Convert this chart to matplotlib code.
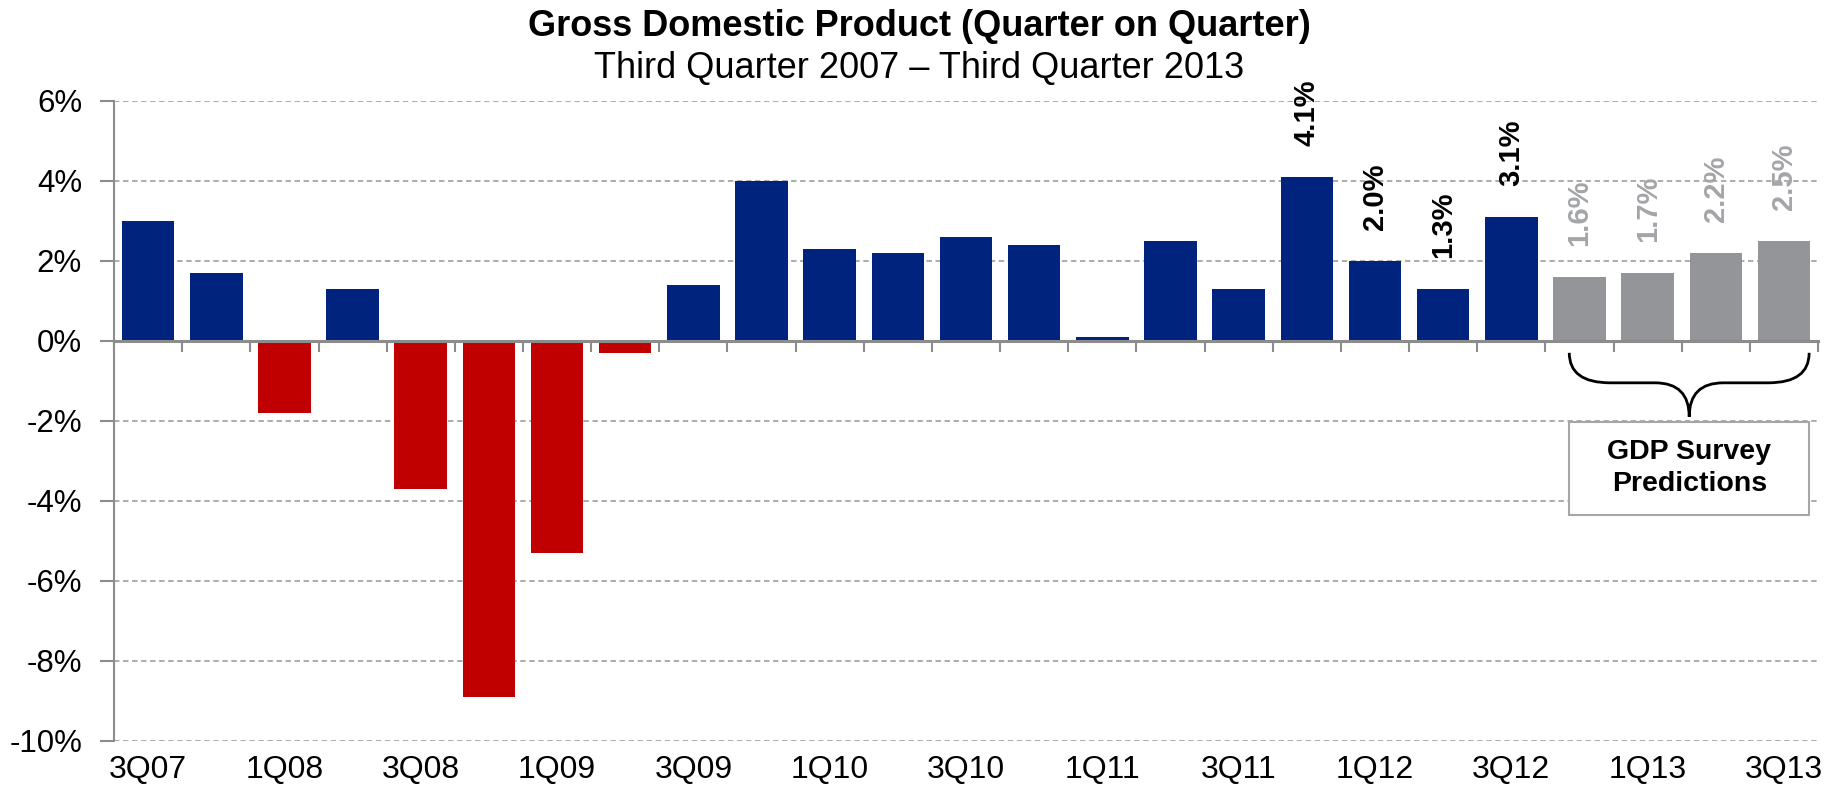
import matplotlib
matplotlib.use("Agg")
import matplotlib.pyplot as plt
import numpy as np
from matplotlib.path import Path
from matplotlib.patches import PathPatch, Rectangle
from matplotlib.transforms import blended_transform_factory

plt.rcParams['font.family'] = ['Liberation Sans', 'DejaVu Sans']

quarters = ['3Q07', '4Q07', '1Q08', '2Q08', '3Q08', '4Q08', '1Q09', '2Q09',
            '3Q09', '4Q09', '1Q10', '2Q10', '3Q10', '4Q10', '1Q11', '2Q11',
            '3Q11', '4Q11', '1Q12', '2Q12', '3Q12', '4Q12', '1Q13', '2Q13',
            '3Q13']
gdp = [3.0, 1.7, -1.8, 1.3, -3.7, -8.9, -5.3, -0.3,
       1.4, 4.0, 2.3, 2.2, 2.6, 2.4, 0.1, 2.5,
       1.3, 4.1, 2.0, 1.3, 3.1, 1.6, 1.7, 2.2,
       2.5]
n_forecast = 4      # last quarters are survey predictions
n_labelled = 8      # last bars get value labels

BLUE = '#00247D'
RED = '#C00000'
GREY = '#939598'
GREY_TXT = '#A3A5A8'
AXIS = '#8C8C8C'

fig = plt.figure(figsize=(18.39, 7.94), dpi=100)
ax = fig.add_axes([0.062, 0.067, 0.9266, 0.806])

x = np.arange(len(quarters))
n = len(quarters)
colors = []
for i, v in enumerate(gdp):
    if i >= n - n_forecast:
        colors.append(GREY)
    elif v < 0:
        colors.append(RED)
    else:
        colors.append(BLUE)
ax.bar(x, gdp, width=0.77, color=colors, zorder=3)

# value labels, rotated
for i in range(n - n_labelled, n):
    c = GREY_TXT if i >= n - n_forecast else 'black'
    ax.annotate(f'{gdp[i]:.1f}%', (x[i], gdp[i]), xytext=(0, 22),
                textcoords='offset points', rotation=90, ha='center',
                va='bottom', fontsize=21, fontweight='bold', color=c)

ax.set_xlim(-0.5, n - 0.5)
ax.set_ylim(-10, 6)
ax.set_yticks(np.arange(-10, 7, 2))
ax.set_yticklabels([f'{v}%' for v in range(-10, 7, 2)])
ax.yaxis.grid(True, linestyle=(0, (3, 2)), color='#A6A6A6', lw=1.3, zorder=0)
ax.tick_params(axis='y', length=10, width=1.5, color=AXIS, pad=13, labelsize=22.5)

for s in ['top', 'right']:
    ax.spines[s].set_visible(False)
ax.spines['left'].set_color(AXIS)
ax.spines['left'].set_linewidth(1.5)
ax.spines['bottom'].set_position(('data', 0))
ax.spines['bottom'].set_color(AXIS)
ax.spines['bottom'].set_linewidth(2.2)
ax.spines['bottom'].set_zorder(4)

ax.set_xticks([])
ax.set_xticks(np.arange(n + 1) - 0.5, minor=True)
ax.tick_params(axis='x', which='minor', length=8, width=1.5, color=AXIS,
               direction='out')

# category labels along the bottom edge
trans = blended_transform_factory(ax.transData, ax.transAxes)
for i in range(0, n, 2):
    ax.text(x[i], -0.045, quarters[i], transform=trans, ha='center',
            va='center', fontsize=23)

# curly brace under the forecast bars
x0, x1 = 20.85, 24.37
xc = (x0 + x1) / 2
ytop, ymid, ytip = -0.3, -1.05, -1.9
r = 0.6
rc = 0.5
verts = [(x0, ytop), (x0, ymid), (x0 + r, ymid),
         (xc - rc, ymid), (xc, ymid), (xc, ytip),
         (xc, ymid), (xc + rc, ymid),
         (x1 - r, ymid), (x1, ymid), (x1, ytop)]
codes = [Path.MOVETO, Path.CURVE3, Path.CURVE3,
         Path.LINETO, Path.CURVE3, Path.CURVE3,
         Path.CURVE3, Path.CURVE3,
         Path.LINETO, Path.CURVE3, Path.CURVE3]
ax.add_patch(PathPatch(Path(verts, codes), facecolor='none',
                       edgecolor='black', lw=2, zorder=5, clip_on=False))

ax.add_patch(Rectangle((x0, -4.35), x1 - x0, 2.33, facecolor='white',
                       edgecolor='#A6A6A6', lw=1.5, zorder=5))
ax.text(xc, -3.18, 'GDP Survey\nPredictions', ha='center', va='center',
        fontsize=20.5, fontweight='bold', linespacing=1.3, zorder=6)

fig.text(0.5, 0.967, 'Gross Domestic Product (Quarter on Quarter)',
         ha='center', va='center', fontsize=26, fontweight='bold')
fig.text(0.5, 0.914, 'Third Quarter 2007 \u2013 Third Quarter 2013',
         ha='center', va='center', fontsize=26)

fig.savefig('out.png', dpi=100, facecolor='white')
